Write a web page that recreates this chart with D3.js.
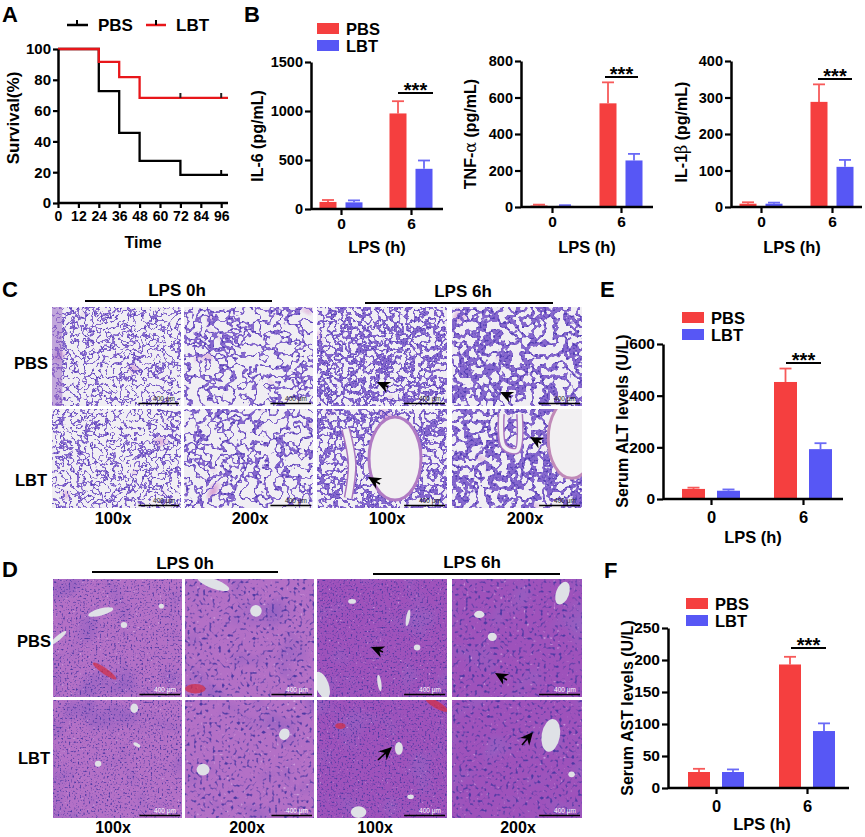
<!DOCTYPE html>
<html><head><meta charset="utf-8">
<script src="https://cdn.jsdelivr.net/npm/d3@7"></script>
<style>body{margin:0;background:#fff}</style>
</head><body><svg id="fig" width="865" height="837"></svg>
<script>
// ---------------- DATA ----------------
const survTimePBS = [0, 24, 36, 48, 72, 100];
const survPBS     = [100, 72.7, 45.5, 27.3, 18.2, 18.2];
const survTimeLBT = [0, 24, 36, 48, 100];
const survLBT     = [100, 91.7, 81.8, 68.2, 68.2];
const censorTimePBS = [96];
const censorValPBS  = [18.2];
const censorTimeLBT = [72, 96];
const censorValLBT  = [68.2, 68.2];
const timeTicks = [0, 12, 24, 36, 48, 60, 72, 84, 96];
const survTicks = [0, 20, 40, 60, 80, 100];

const groups = ["PBS", "LBT"];
const lpsTimes = ["0", "6"];

const il6PBS = [72, 975],  il6PBSerr = [20, 125];
const il6LBT = [68, 410],  il6LBTerr = [20, 85];
const il6Ticks = [0, 500, 1000, 1500];

const tnfPBS = [8, 568],   tnfPBSerr = [5, 115];
const tnfLBT = [6, 255],   tnfLBTerr = [4, 36];
const tnfTicks = [0, 200, 400, 600, 800];

const il1PBS = [9, 288],   il1PBSerr = [4, 48];
const il1LBT = [9, 110],   il1LBTerr = [3, 19];
const il1Ticks = [0, 100, 200, 300, 400];

const altPBS = [39, 453],  altPBSerr = [5, 52];
const altLBT = [32, 193],  altLBTerr = [5, 23];
const altTicks = [0, 200, 400, 600];

const astPBS = [25, 193],  astPBSerr = [5, 12];
const astLBT = [25, 89],   astLBTerr = [4, 12];
const astTicks = [0, 50, 100, 150, 200, 250];

const magLabels = ["100x", "200x", "100x", "200x"];
const lpsLabels = ["LPS 0h", "LPS 6h"];

// ---------------- SETUP ----------------
const FONT = '"Liberation Sans", Arial, Helvetica, sans-serif';
const RED = "#f53f3f", BLUE = "#5757f5";
const RED_E = "#f75a5a", BLUE_E = "#6a6af6";
const svg = d3.select("#fig").attr("font-family", FONT);
const defs = svg.append("defs");

function txt(g, x, y, s, fs, opts = {}) {
  const t = g.append("text").attr("x", x).attr("y", y).text(s)
    .attr("font-size", fs).attr("font-weight", opts.weight || "bold")
    .attr("font-family", FONT).attr("fill", opts.fill || "#000")
    .attr("text-anchor", opts.anchor || "middle")
    .attr("dominant-baseline", opts.base || "central");
  if (opts.rotate) t.attr("transform", `rotate(${opts.rotate},${x},${y})`);
  return t;
}
function styleAxis(g, fs) {
  g.attr("font-family", FONT).attr("font-size", fs).attr("font-weight", "bold");
  g.selectAll(".domain").attr("stroke", "#000").attr("stroke-width", 2.5);
  g.selectAll(".tick line").attr("stroke", "#000").attr("stroke-width", 2.2);
  g.selectAll(".tick text").attr("fill", "#000");
}

// ---------------- PANEL A ----------------
(function () {
  const g = svg.append("g");
  const x = d3.scaleLinear().domain([0, 100]).range([58, 228]);
  const y = d3.scaleLinear().domain([0, 100]).range([203, 49]);
  const line = d3.line().x(d => x(d[0])).y(d => y(d[1])).curve(d3.curveStepAfter);
  g.append("path").attr("d", line(d3.zip(survTimePBS, survPBS)))
    .attr("fill", "none").attr("stroke", "#000").attr("stroke-width", 2.3);
  g.append("path").attr("d", line(d3.zip(survTimeLBT, survLBT)))
    .attr("fill", "none").attr("stroke", "#e8161a").attr("stroke-width", 2.3);
  censorTimePBS.forEach((t, i) => g.append("line").attr("x1", x(t)).attr("x2", x(t))
    .attr("y1", y(censorValPBS[i])).attr("y2", y(censorValPBS[i]) - 5).attr("stroke", "#000").attr("stroke-width", 2));
  censorTimeLBT.forEach((t, i) => g.append("line").attr("x1", x(t)).attr("x2", x(t))
    .attr("y1", y(censorValLBT[i])).attr("y2", y(censorValLBT[i]) - 5).attr("stroke", "#222").attr("stroke-width", 2));

  const xa = g.append("g").attr("transform", "translate(0,203)")
    .call(d3.axisBottom(x).tickValues(timeTicks).tickSize(5).tickSizeOuter(0).tickPadding(3));
  styleAxis(xa, 14);
  xa.select(".domain").attr("d", `M${x(0)},0H${x(100)}`);
  const ya = g.append("g").attr("transform", "translate(58,0)")
    .call(d3.axisLeft(y).tickValues(survTicks).tickSize(5).tickSizeOuter(0).tickPadding(2));
  styleAxis(ya, 15);
  txt(g, 143, 242, "Time", 16);
  txt(g, 13, 118, "Survival(%)", 17, { rotate: -90 });

  // legend
  [[67, 88, 77, "#000", 98, groups[0]], [146, 166, 156, "#e8161a", 176, groups[1]]].forEach(l => {
    g.append("line").attr("x1", l[0]).attr("x2", l[1]).attr("y1", 25).attr("y2", 25).attr("stroke", l[3]).attr("stroke-width", 2.5);
    g.append("line").attr("x1", l[2]).attr("x2", l[2]).attr("y1", 25).attr("y2", 20).attr("stroke", "#000").attr("stroke-width", 2);
    txt(g, l[4], 25, l[5], 17, { anchor: "start" });
  });
  txt(svg, 2, 22, "A", 22, { anchor: "start", base: "alphabetic" });
})();

// ---------------- BAR CHARTS ----------------
function barChart(c) {
  const g = svg.append("g");
  const y = d3.scaleLinear().domain([0, c.max]).range([c.y0, c.yTop]);
  const x = d3.scalePoint().domain(lpsTimes).range(c.cats);
  const series = [
    { v: c.pbs, e: c.pbsErr, col: RED, ecol: RED_E, off: -c.off },
    { v: c.lbt, e: c.lbtErr, col: BLUE, ecol: BLUE_E, off: c.off }
  ];
  series.forEach(s => {
    lpsTimes.forEach((t, i) => {
      const cx = x(t) + s.off;
      const top = y(s.v[i] + s.e[i]);
      g.append("line").attr("x1", cx).attr("x2", cx).attr("y1", y(s.v[i])).attr("y2", top)
        .attr("stroke", s.ecol).attr("stroke-width", 1.8);
      g.append("line").attr("x1", cx - 6).attr("x2", cx + 6).attr("y1", top).attr("y2", top)
        .attr("stroke", s.ecol).attr("stroke-width", 1.8);
      g.append("rect").attr("x", cx - c.bw / 2).attr("y", y(s.v[i]))
        .attr("width", c.bw).attr("height", y(0) - y(s.v[i])).attr("fill", s.col);
    });
  });
  const ya = g.append("g").attr("transform", `translate(${c.x0},0)`)
    .call(d3.axisLeft(y).tickValues(c.ticks).tickFormat(d3.format("d")).tickSize(6).tickSizeOuter(0).tickPadding(2));
  styleAxis(ya, c.fs);
  const xa = g.append("g").attr("transform", `translate(0,${c.y0})`)
    .call(d3.axisBottom(x).tickSize(6).tickSizeOuter(0).tickPadding(c.xpad));
  styleAxis(xa, c.fs + 1);
  xa.select(".domain").attr("d", `M${c.x0},0H${c.x1}`);
  // significance
  g.append("line").attr("x1", c.sig[0]).attr("x2", c.sig[1]).attr("y1", c.sig[2]).attr("y2", c.sig[2])
    .attr("stroke", "#000").attr("stroke-width", 2);
  txt(g, (c.sig[0] + c.sig[1]) / 2, c.sig[2] + 4, "***", 20, { base: "alphabetic" });
  // labels
  const yl = txt(g, c.ylab[0], c.ylab[1], "", 16, { rotate: -90 });
  c.ylabel.forEach(p => yl.append("tspan").text(p[0]).attr("font-weight", p[1] ? "normal" : "bold")
    .attr("font-family", p[1] ? '"DejaVu Serif", serif' : FONT));
  txt(g, c.xlab[0], c.xlab[1], "LPS (h)", 16.5);
  if (c.legend) {
    const [lx, ly] = c.legend;
    g.append("rect").attr("x", lx).attr("y", ly).attr("width", 22).attr("height", 11).attr("fill", RED);
    g.append("rect").attr("x", lx).attr("y", ly + 17).attr("width", 22).attr("height", 11).attr("fill", BLUE);
    txt(g, lx + 29, ly + 5.5, groups[0], 16.5, { anchor: "start" });
    txt(g, lx + 29, ly + 22.5, groups[1], 16.5, { anchor: "start" });
  }
}

barChart({ pbs: il6PBS, pbsErr: il6PBSerr, lbt: il6LBT, lbtErr: il6LBTerr, max: 1500, ticks: il6Ticks,
  x0: 311, x1: 443, y0: 209, yTop: 62, cats: [341, 411], bw: 17, off: 13, fs: 14.5, xpad: 3,
  sig: [398, 433, 93], ylab: [257, 136], ylabel: [["IL-6 (pg/mL)", false]], xlab: [377, 247], legend: [317, 23] });
barChart({ pbs: tnfPBS, pbsErr: tnfPBSerr, lbt: tnfLBT, lbtErr: tnfLBTerr, max: 800, ticks: tnfTicks,
  x0: 521, x1: 653, y0: 207, yTop: 61, cats: [552, 621], bw: 17, off: 13, fs: 14.5, xpad: 3,
  sig: [605, 638, 77], ylab: [470, 134], ylabel: [["TNF-", false], ["α", true], [" (pg/mL)", false]], xlab: [587, 247] });
barChart({ pbs: il1PBS, pbsErr: il1PBSerr, lbt: il1LBT, lbtErr: il1LBTerr, max: 400, ticks: il1Ticks,
  x0: 731, x1: 862, y0: 207, yTop: 61, cats: [761, 832], bw: 17, off: 13, fs: 14.5, xpad: 3,
  sig: [818, 852, 79], ylab: [681, 132], ylabel: [["IL-1", false], ["β", true], [" (pg/mL)", false]], xlab: [792, 247] });
barChart({ pbs: altPBS, pbsErr: altPBSerr, lbt: altLBT, lbtErr: altLBTerr, max: 600, ticks: altTicks,
  x0: 663, x1: 843, y0: 499, yTop: 344, cats: [711, 803], bw: 23, off: 17.5, fs: 15.5, xpad: 6,
  sig: [786, 821, 363], ylab: [622, 421], ylabel: [["Serum ALT levels (U/L)", false]], xlab: [753, 537], legend: [682, 312] });
barChart({ pbs: astPBS, pbsErr: astPBSerr, lbt: astLBT, lbtErr: astLBTerr, max: 250, ticks: astTicks,
  x0: 668, x1: 849, y0: 788, yTop: 628, cats: [716, 807], bw: 22, off: 17, fs: 15.5, xpad: 6,
  sig: [791, 826, 648], ylab: [627, 708], ylabel: [["Serum AST levels (U/L)", false]], xlab: [762, 824], legend: [686, 598] });

txt(svg, 244, 22, "B", 22, { anchor: "start", base: "alphabetic" });
txt(svg, 600, 297, "E", 22, { anchor: "start", base: "alphabetic" });
txt(svg, 604, 578, "F", 22, { anchor: "start", base: "alphabetic" });

// ---------------- HISTOLOGY (C, D) ----------------
let fid = 0;
function bandTable(n, peak, width, amp) {
  const v = [];
  for (let i = 0; i < n; i++) { const t = i / (n - 1); v.push(Math.abs(t - peak) < width ? amp : 0); }
  return v.join(" ");
}
function tissueFilter(kind, mag, seed) {
  const id = "tf" + (fid++);
  const f = defs.append("filter").attr("id", id).attr("x", 0).attr("y", 0).attr("width", 1).attr("height", 1)
    .attr("color-interpolation-filters", "sRGB");
  const add = (n, a, p = f) => { const e = p.append(n); Object.entries(a).forEach(([k, v]) => e.attr(k, v)); return e; };
  if (kind.startsWith("lung")) {
    const dense = kind === "lung6";
    const bf = mag === 100 ? 0.14 : 0.09;
    add("feFlood", { "flood-color": "#f0eef3", result: "bg" });
    add("feTurbulence", { type: "fractalNoise", baseFrequency: 0.04, numOctaves: 2, seed: seed + 7, result: "p" });
    add("feColorMatrix", { in: "p", type: "matrix", values: "0 0 0 0 0.84 0 0 0 0 0.6 0 0 0 0 0.82 5 0 0 0 -3.6", result: "pink" });
    add("feTurbulence", { type: "fractalNoise", baseFrequency: bf, numOctaves: 3, seed: seed, result: "t" });
    add("feColorMatrix", { in: "t", type: "matrix", values: "0 0 0 0 0.5 0 0 0 0 0.38 0 0 0 0 0.8 1 0 0 0 0", result: "tc" });
    const ct = add("feComponentTransfer", { in: "tc", result: "net" });
    add("feFuncA", { type: "table", tableValues: bandTable(41, 0.5, dense ? 0.09 : 0.05, 0.95) }, ct);
    add("feTurbulence", { type: "fractalNoise", baseFrequency: mag === 100 ? 0.7 : 0.45, numOctaves: 1, seed: seed + 3, result: "h" });
    add("feColorMatrix", { in: "h", type: "matrix", values: "0 0 0 0 0.32 0 0 0 0 0.24 0 0 0 0 0.7 6 0 0 0 -3.1", result: "dots" });
    add("feComposite", { in: "dots", in2: "net", operator: "in", result: "dn" });
    const m = f.append("feMerge");
    ["bg", "pink", "net", "dn"].forEach(r => m.append("feMergeNode").attr("in", r));
  } else {
    const dark = kind === "liver6";
    add("feFlood", { "flood-color": dark ? "#9e52bb" : "#b370c6", result: "bg" });
    add("feTurbulence", { type: "fractalNoise", baseFrequency: 0.03, numOctaves: 2, seed: seed + 5, result: "low" });
    add("feColorMatrix", { in: "low", type: "matrix", values: "0 0 0 0 0.58 0 0 0 0 0.38 0 0 0 0 0.76 2.5 0 0 0 -1.3", result: "shade" });
    add("feTurbulence", { type: "fractalNoise", baseFrequency: mag === 100 ? 0.55 : 0.32, numOctaves: 1, seed: seed, result: "h" });
    add("feColorMatrix", { in: "h", type: "matrix", values: "0 0 0 0 0.3 0 0 0 0 0.22 0 0 0 0 0.64 5 0 0 0 -2.8", result: "nuc" });
    add("feTurbulence", { type: "fractalNoise", baseFrequency: mag === 100 ? 0.45 : 0.3, numOctaves: 1, seed: seed + 11, result: "h2" });
    add("feColorMatrix", { in: "h2", type: "matrix", values: "0 0 0 0 0.9 0 0 0 0 0.8 0 0 0 0 0.94 4 0 0 0 -2.75", result: "sp" });
    const m = f.append("feMerge");
    ["bg", "shade", "sp", "nuc"].forEach(r => m.append("feMergeNode").attr("in", r));
  }
  return id;
}

const colsC = [[52, 181], [184, 313], [317, 447], [452, 582]];
const rowsC = [[307, 406], [409, 508]];
const colsD = [[53, 182], [185, 314], [317, 447], [452, 582]];
const rowsD = [[579, 697], [700, 818]];

// decorations (relative coords): white lumens/vessels
const decoC = {
  "1-2": [{ t: "e", cx: 0.6, cy: 0.5, rx: 0.2, ry: 0.42, stroke: "#b07ac4" }, { t: "p", d: [[0.22, 0.2], [0.27, 0.55], [0.24, 0.9]], w: 6 }],
  "1-3": [{ t: "e", cx: 0.92, cy: 0.3, rx: 0.18, ry: 0.4, stroke: "#c08ab8" }, { t: "p", d: [[0.38, 0.05], [0.4, 0.38], [0.5, 0.42], [0.52, 0.05]], w: 4 }],
  "0-0": [{ t: "b", x: 0, y: 0, w: 0.08, h: 1, fill: "#9a6cc6" }]
};
const decoD = {
  "0-0": [{ t: "v", cx: 0.37, cy: 0.28, rx: 0.1, ry: 0.03, r: -15 }, { t: "v", cx: 0.55, cy: 0.39, rx: 0.025, ry: 0.025 }, { t: "v", cx: 0.84, cy: 0.23, rx: 0.02, ry: 0.02 }, { t: "v", cx: 0.04, cy: 0.5, rx: 0.08, ry: 0.02, r: -40 }, { t: "r", cx: 0.4, cy: 0.78, rx: 0.11, ry: 0.025, r: 35 }],
  "0-1": [{ t: "v", cx: 0.55, cy: 0.27, rx: 0.045, ry: 0.05 }, { t: "v", cx: 0.22, cy: 0.04, rx: 0.13, ry: 0.04, r: 20 }, { t: "r", cx: 0.08, cy: 0.93, rx: 0.08, ry: 0.04 }],
  "1-0": [{ t: "v", cx: 0.63, cy: 0.07, rx: 0.03, ry: 0.04 }, { t: "v", cx: 0.35, cy: 0.54, rx: 0.025, ry: 0.025 }, { t: "v", cx: 0.65, cy: 0.38, rx: 0.03, ry: 0.015, r: 30 }],
  "1-1": [{ t: "v", cx: 0.14, cy: 0.59, rx: 0.05, ry: 0.05 }, { t: "v", cx: 0.77, cy: 0.29, rx: 0.04, ry: 0.05, r: 30 }],
  "0-2": [{ t: "v", cx: 0.7, cy: 0.33, rx: 0.015, ry: 0.07, r: 10 }, { t: "v", cx: 0.27, cy: 0.19, rx: 0.03, ry: 0.02 }, { t: "v", cx: 0.77, cy: 0.58, rx: 0.025, ry: 0.025 }, { t: "v", cx: 0.48, cy: 0.88, rx: 0.015, ry: 0.07, r: -8 }, { t: "v", cx: 0.04, cy: 0.9, rx: 0.05, ry: 0.12, r: -20 }],
  "0-3": [{ t: "v", cx: 0.85, cy: 0.12, rx: 0.05, ry: 0.1, r: 20 }, { t: "v", cx: 0.21, cy: 0.3, rx: 0.04, ry: 0.03 }, { t: "v", cx: 0.31, cy: 0.49, rx: 0.035, ry: 0.035 }],
  "1-2": [{ t: "v", cx: 0.63, cy: 0.41, rx: 0.03, ry: 0.055 }, { t: "v", cx: 0.32, cy: 0.95, rx: 0.06, ry: 0.05 }, { t: "v", cx: 0.72, cy: 0.82, rx: 0.025, ry: 0.02 }, { t: "r", cx: 0.18, cy: 0.22, rx: 0.04, ry: 0.025 }, { t: "r", cx: 0.92, cy: 0.04, rx: 0.1, ry: 0.03, r: 30 }],
  "1-3": [{ t: "v", cx: 0.76, cy: 0.3, rx: 0.07, ry: 0.14, r: 10 }, { t: "v", cx: 0.92, cy: 0.63, rx: 0.025, ry: 0.025 }]
};

function drawPanel(cols, rows, kinds, deco, seedBase, textOnWhite) {
  const g = svg.append("g");
  rows.forEach((r, ri) => cols.forEach((c, ci) => {
    const x = c[0], y = r[0], w = c[1] - c[0], h = r[1] - r[0];
    const kind = kinds[ci >= 2 ? 1 : 0];
    const mag = ci % 2 === 0 ? 100 : 200;
    const id = tissueFilter(kind, mag, seedBase + ri * 4 + ci);
    const cid = "clip" + id;
    defs.append("clipPath").attr("id", cid).append("rect").attr("x", x).attr("y", y).attr("width", w).attr("height", h);
    const tg = g.append("g").attr("clip-path", `url(#${cid})`);
    tg.append("rect").attr("x", x).attr("y", y).attr("width", w).attr("height", h).attr("fill", "#ccc").attr("filter", `url(#${id})`);
    (deco[ri + "-" + ci] || []).forEach(d => {
      if (d.t === "e") {
        tg.append("ellipse").attr("cx", x + d.cx * w).attr("cy", y + d.cy * h).attr("rx", d.rx * w).attr("ry", d.ry * h)
          .attr("fill", "#f2f0f2").attr("stroke", d.stroke).attr("stroke-width", 3);
      } else if (d.t === "p") {
        const p = d3.line().curve(d3.curveCatmullRom)(d.d.map(q => [x + q[0] * w, y + q[1] * h]));
        tg.append("path").attr("d", p).attr("fill", "none").attr("stroke", "#a874c0").attr("stroke-width", d.w + 3);
        tg.append("path").attr("d", p).attr("fill", "none").attr("stroke", "#f2f0f2").attr("stroke-width", d.w);
      } else if (d.t === "b") {
        tg.append("rect").attr("x", x + d.x * w).attr("y", y + d.y * h).attr("width", d.w * w).attr("height", d.h * h)
          .attr("fill", d.fill).attr("opacity", 0.55);
      } else {
        tg.append("ellipse").attr("cx", x + d.cx * w).attr("cy", y + d.cy * h).attr("rx", d.rx * w).attr("ry", d.ry * h)
          .attr("fill", d.t === "r" ? "#d0304a" : "#dfe1e6").attr("opacity", d.t === "r" ? 0.75 : 1)
          .attr("transform", d.r ? `rotate(${d.r},${x + d.cx * w},${y + d.cy * h})` : null);
      }
    });
    // scale bar
    tg.append("line").attr("x1", x + w * 0.67).attr("x2", x + w - 2).attr("y1", y + h - 2.5).attr("y2", y + h - 2.5)
      .attr("stroke", "#000").attr("stroke-width", 1.6);
    txt(tg, x + w - 17, y + h - 8, "400 μm", 6.5, { fill: textOnWhite ? "#222" : "#fff", weight: "normal" });
  }));
  return g;
}
function arrow(g, tx, ty, bx, by) {
  const a = Math.atan2(ty - by, tx - bx) * 180 / Math.PI;
  const len = Math.hypot(tx - bx, ty - by);
  const ag = g.append("g").attr("transform", `translate(${tx},${ty}) rotate(${a})`);
  if (len > 10) ag.append("line").attr("x1", -8).attr("x2", -len).attr("y1", 0).attr("y2", 0).attr("stroke", "#000").attr("stroke-width", 1.6);
  ag.append("path").attr("d", "M0,0L-13,-6L-9,0L-13,6Z").attr("fill", "#000");
}

const gC = drawPanel(colsC, rowsC, ["lung0", "lung6"], decoC, 10, true);
arrow(gC, 377, 382, 388, 387);
arrow(gC, 500, 392, 511, 397);
arrow(gC, 368, 477, 380, 484);
arrow(gC, 530, 437, 541, 443);
const gD = drawPanel(colsD, rowsD, ["liver0", "liver6"], decoD, 40, false);
arrow(gD, 371, 647, 383, 652);
arrow(gD, 495, 673, 507, 680);
arrow(gD, 392, 747, 378, 760);
arrow(gD, 533, 732, 522, 745);

// headers / labels
function header(cx, cy, ly, lx1, lx2, s) {
  txt(svg, cx, cy, s, 17);
  svg.append("line").attr("x1", lx1).attr("x2", lx2).attr("y1", ly).attr("y2", ly).attr("stroke", "#000").attr("stroke-width", 1.8);
}
header(177, 290, 301, 85, 272, lpsLabels[0]);
header(463, 291, 303, 365, 553, lpsLabels[1]);
header(185, 563, 572, 92, 278, lpsLabels[0]);
header(472, 562, 574, 373, 560, lpsLabels[1]);
txt(svg, 31, 363, groups[0], 16.5);
txt(svg, 31, 480, groups[1], 16.5);
txt(svg, 34, 641, groups[0], 16.5);
txt(svg, 34, 758, groups[1], 16.5);
[113, 250, 387, 525].forEach((cx, i) => txt(svg, cx, 518, magLabels[i], 16.5));
[113, 247, 375, 518].forEach((cx, i) => txt(svg, cx, 827.5, magLabels[i], 16));
txt(svg, 2, 297, "C", 22, { anchor: "start", base: "alphabetic" });
txt(svg, 2, 577, "D", 22, { anchor: "start", base: "alphabetic" });
</script></body></html>
